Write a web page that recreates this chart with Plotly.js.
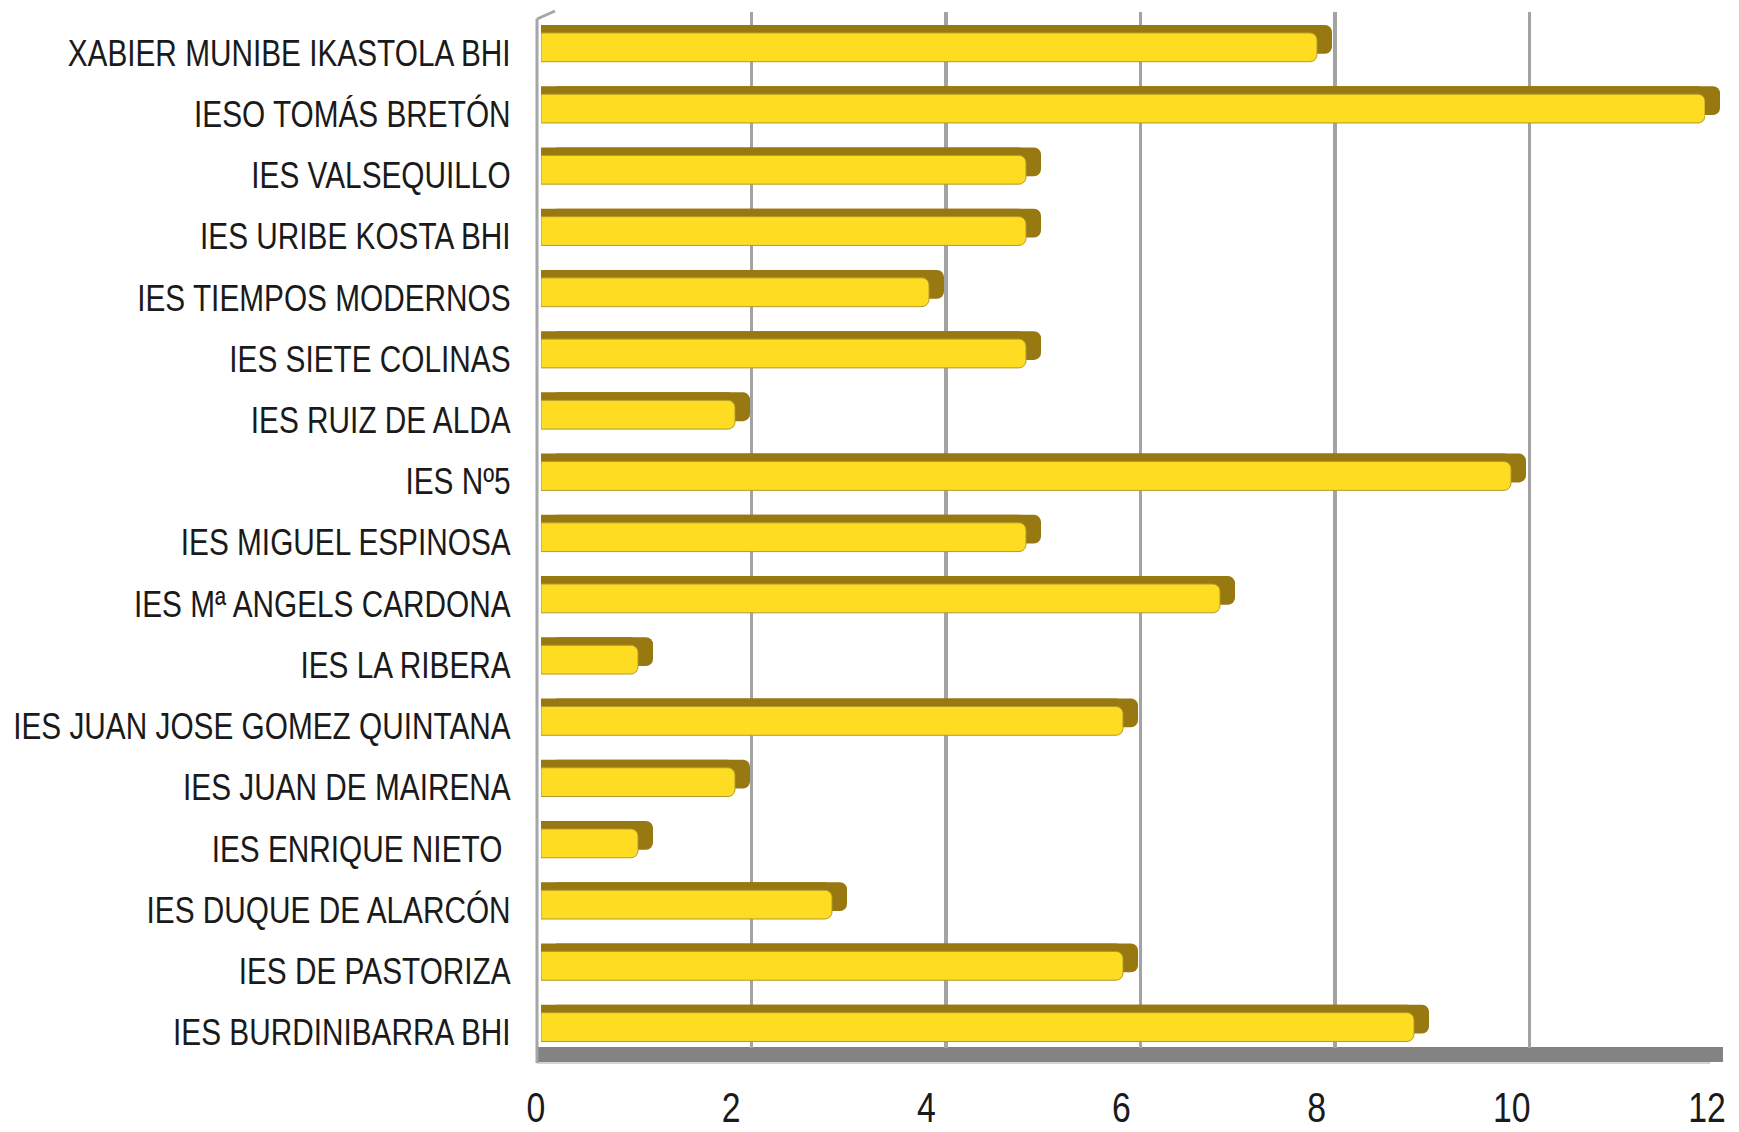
<!DOCTYPE html>
<html>
<head>
<meta charset="utf-8">
<script src="https://cdn.plot.ly/plotly-3.0.1.min.js"></script>
<style>
  html, body { margin: 0; padding: 0; background: #ffffff; }
  #chart { width: 1739px; height: 1132px; }
</style>
</head>
<body>
<div id="chart"></div>
<script>
// ---- data (top to bottom as displayed) ----
var schools = [
  "XABIER MUNIBE IKASTOLA BHI",
  "IESO TOMÁS BRETÓN",
  "IES VALSEQUILLO",
  "IES URIBE KOSTA BHI",
  "IES TIEMPOS MODERNOS",
  "IES SIETE COLINAS",
  "IES RUIZ DE ALDA",
  "IES Nº5",
  "IES MIGUEL ESPINOSA",
  "IES Mª ANGELS CARDONA",
  "IES LA RIBERA",
  "IES JUAN JOSE GOMEZ QUINTANA",
  "IES JUAN DE MAIRENA",
  "IES ENRIQUE NIETO\u00a0",
  "IES DUQUE DE ALARCÓN",
  "IES DE PASTORIZA",
  "IES BURDINIBARRA BHI"
];
var counts = [8, 12, 5, 5, 4, 5, 2, 10, 5, 7, 1, 6, 2, 1, 3, 6, 9];
var xTicks = [0, 2, 4, 6, 8, 10, 12];
var xTickText = ["0", "2", "4", "6", "8", "10", "12"];

// ---- layout helpers (page pixels -> paper fractions) ----
var W = 1739, H = 1132;
function px(x) { return x / W; }
function py(y) { return 1 - y / H; }

var FONT = "'Liberation Sans Narrow', 'Arial Narrow', 'Liberation Sans', Arial, sans-serif";
var DARK = "#977811";

// invisible carrier on the back-wall subplot (draws the gridlines)
var gridCarrier = {
  type: "bar", orientation: "h",
  x: counts, y: schools, xaxis: "x", yaxis: "y",
  marker: { color: "rgba(0,0,0,0)" }, hoverinfo: "skip", showlegend: false
};
// back face (dark, depth of the 3D bar, shifted to the back wall)
var backBars = {
  type: "bar", orientation: "h",
  x: counts, y: schools,
  xaxis: "x2", yaxis: "y2",
  width: 0.47, offset: -0.37,
  marker: { color: DARK, cornerradius: 7, line: { width: 0 } },
  hoverinfo: "skip", showlegend: false
};
// invisible carrier on the front-floor subplot (draws the tick labels)
var tickCarrier = {
  type: "bar", orientation: "h",
  x: counts, y: schools, xaxis: "x3", yaxis: "y3",
  marker: { color: "rgba(0,0,0,0)" }, hoverinfo: "skip", showlegend: false
};
// top face (dark band above the front face)
var topBars = {
  type: "bar", orientation: "h",
  x: counts, y: schools,
  xaxis: "x4", yaxis: "y2",
  width: 0.47, offset: -0.37,
  marker: { color: DARK, cornerradius: 7, line: { width: 0 } },
  hoverinfo: "skip", showlegend: false
};
// front face (yellow)
var frontBars = {
  type: "bar", orientation: "h",
  x: counts, y: schools,
  xaxis: "x4", yaxis: "y2",
  width: 0.47, offset: -0.24,
  marker: { color: "#fddc22", cornerradius: 7, line: { width: 1, color: "#b49a2a" } },
  hoverinfo: "x+y", showlegend: false
};

var layout = {
  width: W, height: H,
  margin: { l: 0, r: 0, t: 0, b: 0 },
  paper_bgcolor: "#ffffff",
  plot_bgcolor: "rgba(0,0,0,0)",
  barmode: "overlay",
  showlegend: false,
  font: { family: FONT, color: "#1a1a1a" },
  // back-wall gridlines
  xaxis: {
    domain: [px(557), px(1724)], range: [0, 12], anchor: "y",
    tickvals: xTicks, showgrid: true, gridcolor: "#a3a3a3", gridwidth: 3.5,
    showticklabels: false, zeroline: false, showline: false, ticks: "",
    fixedrange: true
  },
  yaxis: {
    domain: [py(1048), py(12)], anchor: "x",
    type: "category", categoryorder: "array", categoryarray: schools,
    autorange: "reversed",
    visible: false, showgrid: false, fixedrange: true
  },
  // dark back faces of the bars
  xaxis2: {
    domain: [px(556), px(1720)], range: [0, 12], anchor: "y2",
    showgrid: false, showticklabels: false, zeroline: false, showline: false, ticks: "",
    fixedrange: true
  },
  yaxis2: {
    domain: [py(1058), py(17)], anchor: "x4",
    type: "category", categoryorder: "array", categoryarray: schools,
    autorange: "reversed",
    showgrid: false, zeroline: false, showline: false,
    ticks: "outside", ticklen: 22, tickcolor: "rgba(0,0,0,0)",
    ticklabelshift: -5,
    tickfont: { family: FONT, size: 37, color: "#1a1a1a" },
    fixedrange: true
  },
  // front-floor tick labels
  xaxis3: {
    domain: [px(536), px(1707)], range: [0, 12], anchor: "y3",
    tickvals: xTicks, ticktext: xTickText,
    showgrid: false, zeroline: false, showline: false, ticks: "",
    tickfont: { family: FONT, size: 42, color: "#1a1a1a" },
    fixedrange: true
  },
  yaxis3: {
    domain: [py(1079), py(1075)], anchor: "x3",
    type: "category", categoryorder: "array", categoryarray: schools,
    visible: false, showgrid: false, fixedrange: true
  },
  // yellow front faces of the bars
  xaxis4: {
    domain: [px(541), px(1705)], range: [0, 12], anchor: "y2",
    showgrid: false, showticklabels: false, zeroline: false, showline: false, ticks: "",
    fixedrange: true
  },
  shapes: [
    // floor
    { type: "rect", xref: "paper", yref: "paper", layer: "below",
      x0: px(537), x1: px(1723), y0: py(1062), y1: py(1047),
      fillcolor: "#838383", line: { width: 0 } },
    { type: "line", xref: "paper", yref: "paper", layer: "below",
      x0: px(537), x1: px(1710), y0: py(1063), y1: py(1063),
      line: { color: "#d4d4d4", width: 2 } },
    // left wall edge
    { type: "line", xref: "paper", yref: "paper", layer: "below",
      x0: px(537), x1: px(537), y0: py(1063), y1: py(19),
      line: { color: "#a6a6a6", width: 3 } },
    { type: "line", xref: "paper", yref: "paper", layer: "below",
      x0: px(537), x1: px(555), y0: py(19), y1: py(11),
      line: { color: "#a6a6a6", width: 3 } }
  ]
};

// The reference uses a narrow (condensed) face; no narrow face is installed,
// so squeeze the real text horizontally around its anchor point.
var SQUEEZE = 0.805;
function condenseLabels() {
  var gd = document.getElementById("chart");
  var texts = gd.querySelectorAll("g.y2tick text, g.x3tick text");
  texts.forEach(function (t) {
    var tr = t.getAttribute("transform") || "";
    if (tr.indexOf("scale(" + SQUEEZE) !== -1) return;
    var bb;
    try { bb = t.getBBox(); } catch (e) { return; }
    if (!bb || bb.width === 0) return;
    var anchor = t.getAttribute("text-anchor") || window.getComputedStyle(t).textAnchor;
    var ax = anchor === "end" ? bb.x + bb.width : (anchor === "middle" ? bb.x + bb.width / 2 : bb.x);
    t.setAttribute("transform", tr + " translate(" + ax + ",0) scale(" + SQUEEZE + ",1) translate(" + (-ax) + ",0)");
  });
}

Plotly.newPlot("chart", [gridCarrier, backBars, tickCarrier, topBars, frontBars], layout,
  { displayModeBar: false, staticPlot: true });
condenseLabels();
var gdEl = document.getElementById("chart");
if (gdEl.on) gdEl.on("plotly_afterplot", condenseLabels);
setTimeout(condenseLabels, 0);
setTimeout(condenseLabels, 200);
</script>
</body>
</html>
